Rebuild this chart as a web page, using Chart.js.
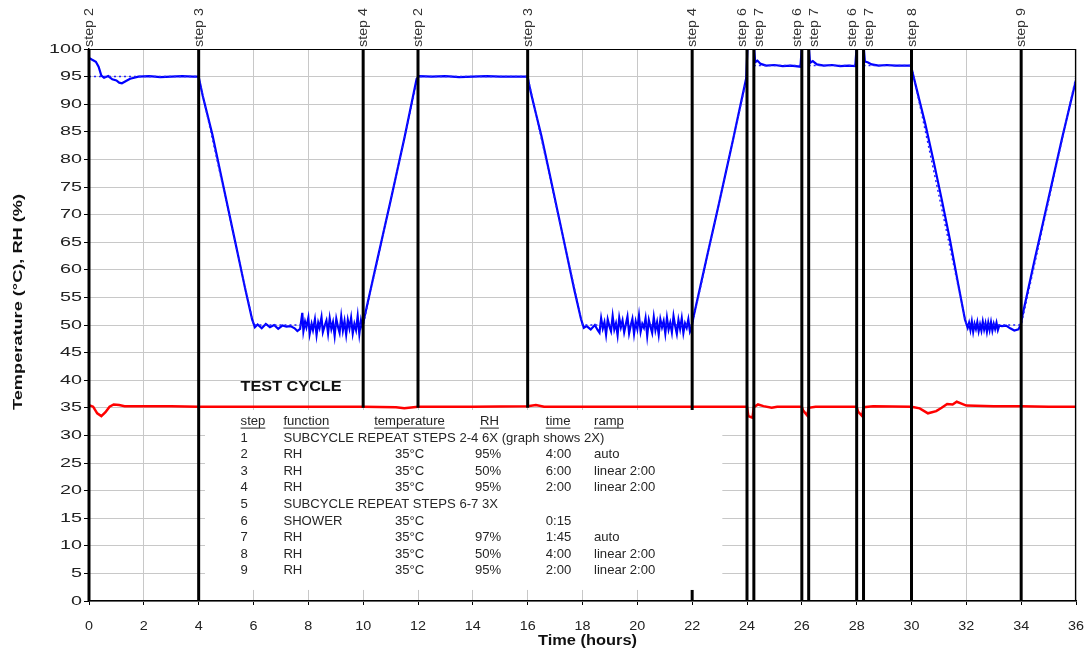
<!DOCTYPE html>
<html><head><meta charset="utf-8">
<script src="https://cdn.jsdelivr.net/npm/chart.js@4/dist/chart.umd.min.js"></script>
<style>html,body{margin:0;padding:0;background:#fff;}#wrap{width:1087px;height:649px;}</style>
</head><body><div id="wrap"><canvas id="c" width="1087" height="649"></canvas></div>
<script>
// ---------- DATA ----------
const xTickValues = [0,2,4,6,8,10,12,14,16,18,20,22,24,26,28,30,32,34,36];
const yTickValues = [0,5,10,15,20,25,30,35,40,45,50,55,60,65,70,75,80,85,90,95,100];

// measured RH (%)
const rhHours = [
  0,0.1,0.25,0.35,0.45,0.55,0.7,0.85,1.0,1.1,1.2,1.35,1.5,1.65,1.8,2.2,2.6,3.0,3.4,3.8,4.0,
  4.05,4.15,4.3,4.5,4.8,5.1,5.4,5.7,5.95,6.05,
  6.15,6.3,6.45,6.6,6.75,6.9,7.05,7.2,7.35,7.5,7.6,7.7,
  7.78,7.82,7.88,7.93,8.0,8.05,8.12,8.17,8.24,8.3,8.36,8.41,8.48,8.53,8.6,8.66,8.72,8.78,8.84,8.9,8.96,9.02,9.08,9.14,9.2,9.26,9.32,9.38,9.44,9.5,9.56,9.62,9.68,9.74,9.8,9.86,9.92,9.97,
  10.05,10.5,11.0,11.5,11.95,12.05,
  12.5,13.0,13.5,14.0,14.5,15.0,15.5,16.0,
  16.05,16.15,16.3,16.5,16.8,17.1,17.4,17.7,17.95,18.05,
  18.15,18.3,18.45,18.55,
  18.62,18.68,18.74,18.80,18.86,18.92,18.98,19.04,19.10,19.16,
  19.22,19.28,19.34,19.40,19.46,19.52,19.58,19.64,19.70,19.76,
  19.82,19.88,19.94,20.00,20.06,20.12,20.18,20.24,20.30,20.36,
  20.42,20.48,20.54,20.60,20.66,20.72,20.78,20.84,20.90,20.96,
  21.02,21.08,21.14,21.20,21.26,21.32,21.38,21.44,21.50,21.56,
  21.62,21.68,21.74,21.80,21.86,21.92,21.97,
  22.05,22.5,23.0,23.5,23.97,
  24.05,24.2,24.3,24.38,24.5,24.7,25.0,25.3,25.6,25.95,
  26.05,26.2,26.3,26.4,26.55,26.8,27.1,27.4,27.7,27.95,
  28.05,28.2,28.3,28.4,28.55,28.8,29.1,29.4,29.7,29.98,
  30.05,30.15,30.3,30.5,30.8,31.1,31.4,31.7,31.95,32.05,
  32.1,32.15,32.2,32.25,32.3,32.35,32.4,32.45,32.5,32.55,32.6,32.65,32.7,32.75,32.8,32.85,32.9,32.95,33.0,33.05,33.1,33.15,33.2,33.3,33.45,33.6,33.75,33.9,33.98,
  34.05,34.5,35.0,35.5,36.0
];
const rhValues = [
  98.4,98.1,97.7,96.8,95.2,94.8,95.1,94.5,94.3,93.9,93.8,94.2,94.6,94.8,95.0,95.1,94.9,95.0,95.1,95.0,95.0,
  93.8,91.5,88.5,84.5,77.5,70.5,63.5,56.5,51.0,49.6,
  50.1,49.4,50.2,49.6,50.0,49.3,49.9,49.7,49.8,49.4,48.9,49.3,
  52.2,48.9,50.6,49.6,51.3,48.4,50.2,49.1,51.0,48.2,50.4,49.5,51.4,48.7,49.9,50.8,48.5,51.2,49.3,50.5,48.1,51.1,49.7,48.6,51.5,49.0,50.7,48.3,50.9,49.4,51.3,48.5,50.2,49.1,51.6,48.4,50.8,49.6,
  51.5,61.5,72.5,83.8,94.6,95.1,
  95.0,95.1,94.9,95.0,95.1,95.0,95.0,95.0,
  93.6,91.4,88.3,84.3,77.4,70.4,63.4,56.4,51.0,49.5,
  49.8,49.2,50.0,49.1,
  48.6,51.2,49.4,50.5,48.3,51.0,49.8,48.9,51.6,49.2,
  50.3,48.2,51.3,49.6,50.8,48.7,50.1,51.5,48.5,49.9,
  51.1,48.4,50.6,49.3,51.7,48.8,50.2,49.5,51.2,48.1,
  50.9,49.7,48.6,51.4,49.1,50.5,48.3,51.0,49.6,50.7,
  48.5,51.3,49.2,50.4,48.7,51.6,49.8,48.4,50.9,49.3,
  51.2,48.6,50.3,49.5,51.0,48.8,49.4,
  51.5,61.5,72.5,83.8,94.7,
  104,104,97.6,97.9,97.3,97.0,97.1,96.9,97.0,96.8,
  104,104,97.5,97.8,97.2,97.0,97.1,96.9,97.0,96.9,
  104,104,97.7,97.6,97.2,97.0,97.1,97.0,97.0,97.0,
  95.5,93.5,90.5,86.5,79.8,72.8,65.5,57.5,51.0,49.5,
  50.4,49.1,50.6,48.8,50.2,49.3,50.5,48.9,50.1,49.0,50.6,49.2,50.3,48.8,50.4,49.1,50.5,49.0,50.2,49.3,50.4,49.1,49.9,49.8,49.9,49.4,49.0,49.2,50.0,
  51.8,62.0,73.0,84.0,94.4
];

// RH setpoint (%)
const setHours  = [0,4,6,10,12,16,18,22,24,24.1,24.25,26,26.1,26.25,28,28.1,28.25,30,32,34,36];
const setValues = [95,95,50,50,95,95,50,50,95,null,97,97,null,97,97,null,97,97,50,50,95];

// measured temperature (°C)
const tempHours = [0,0.15,0.3,0.45,0.6,0.75,0.9,1.1,1.3,2,3,4,6,8,10,11.2,11.5,12,14,16,16.3,16.6,18,20,22,24,24.05,24.2,24.25,24.4,24.6,24.9,25.1,26,26.05,26.2,26.25,26.5,28,28.05,28.2,28.25,28.6,30,30.3,30.6,30.9,31.1,31.3,31.5,31.65,31.8,32,33,34,35,36];
const tempValues = [35.5,35.2,34.0,33.5,34.2,35.2,35.6,35.5,35.3,35.3,35.3,35.2,35.2,35.2,35.2,35.1,34.9,35.2,35.2,35.3,35.5,35.2,35.2,35.2,35.2,35.2,33.5,33.2,35.1,35.6,35.3,35.0,35.2,35.2,34.5,33.6,35.0,35.2,35.2,34.3,33.5,35.1,35.3,35.2,34.9,34.0,34.4,35.0,35.7,35.6,36.1,35.8,35.4,35.3,35.3,35.2,35.2];

// step boundaries
const stepHours  = [0,4,10,12,16,22,24,24.25,26,26.25,28,28.25,30,34];
const stepLabels = ['step 2','step 3','step 4','step 2','step 3','step 4','step 6','step 7','step 6','step 7','step 6','step 7','step 8','step 9'];
const stepBottoms = [0,0,35,35,35,0,0,0,0,0,0,0,0,0];

// test-cycle table
const tableTitle = 'TEST CYCLE';
const tableHeaders = ['step','function','temperature','RH','time','ramp'];
const tableSteps = ['1','2','3','4','5','6','7','8','9'];
const tableFunctions = ['SUBCYCLE REPEAT STEPS 2-4 6X (graph shows 2X)','RH','RH','RH','SUBCYCLE REPEAT STEPS 6-7 3X','SHOWER','RH','RH','RH'];
const tableTemps = ['','35°C','35°C','35°C','','35°C','35°C','35°C','35°C'];
const tableRH = ['','95%','50%','95%','','','97%','50%','95%'];
const tableTimes = ['','4:00','6:00','2:00','','0:15','1:45','4:00','2:00'];
const tableRamps = ['','auto','linear 2:00','linear 2:00','','','auto','linear 2:00','linear 2:00'];

const xTitle = 'Time (hours)';
const yTitle = 'Temperature (°C), RH (%)';

// ---------- LAYOUT / STYLE ----------
const FAM = '"Liberation Sans", Arial, Helvetica, sans-serif';
const TEXT = '#1e1e1e';
const L = {
  tableCols: {step:5.53, func:7.09, tempH:10.40, temp:11.16, rhH:14.26, rh:14.08, time:16.66, ramp:18.42},
  headerY: 32.5, firstRowY: 29.5, rowStep: 3, titleY: 38.8,
  box: {x0:4.23, x1:23.1, y0:2.0, y1:34.6}
};

function toXY(xs, ys){ return xs.map((x,i)=>({x:x, y:ys[i]})); }

function scaleFor(ctx, font, sample, target){
  ctx.save(); ctx.font = font; const w = ctx.measureText(sample).width; ctx.restore();
  return target / w;
}
function drawText(ctx, txt, x, y, font, sx, align, rot, color){
  ctx.save();
  ctx.translate(x, y);
  if (rot) ctx.rotate(rot);
  ctx.scale(sx, 1);
  ctx.font = font; ctx.textAlign = align; ctx.textBaseline = 'middle';
  ctx.fillStyle = color || TEXT;
  ctx.fillText(txt, 0, 0);
  const w = ctx.measureText(txt).width;
  ctx.restore();
  return w * sx;
}

const overlay = {
  id: 'overlay',
  afterDatasetsDraw(chart){
    const ctx = chart.ctx, xs = chart.scales.x, ys = chart.scales.y, ca = chart.chartArea;
    // step lines
    ctx.save();
    ctx.strokeStyle = '#000'; ctx.lineWidth = 3;
    stepHours.forEach((h,i)=>{
      const X = xs.getPixelForValue(h);
      ctx.beginPath(); ctx.moveTo(X, ca.top); ctx.lineTo(X, ys.getPixelForValue(stepBottoms[i])); ctx.stroke();
    });
    ctx.restore();
    // plot border top/right
    ctx.save(); ctx.strokeStyle = '#000'; ctx.lineWidth = 1.2;
    ctx.beginPath(); ctx.moveTo(ca.left, ca.top+0.5); ctx.lineTo(ca.right-0.5, ca.top+0.5); ctx.lineTo(ca.right-0.5, ca.bottom); ctx.stroke();
    ctx.restore();
    // table box
    const bx0 = xs.getPixelForValue(L.box.x0), bx1 = xs.getPixelForValue(L.box.x1);
    const by0 = ys.getPixelForValue(L.box.y1), by1 = ys.getPixelForValue(L.box.y0);
    ctx.save(); ctx.fillStyle = '#fff'; ctx.fillRect(bx0, by0, bx1-bx0, by1-by0); ctx.restore();

    // table text
    const tFont = '13px ' + FAM;
    const tsx = scaleFor(ctx, tFont, tableFunctions[0], 321);
    const titleFont = 'bold 14px ' + FAM;
    const titleSx = scaleFor(ctx, titleFont, tableTitle, 101);
    const C = L.tableCols, P = v => xs.getPixelForValue(v), Q = v => ys.getPixelForValue(v);
    const tc = '#262626';
    drawText(ctx, tableTitle, P(C.step), Q(L.titleY), titleFont, titleSx, 'left', 0, '#111');
    const hx = [C.step, C.func, C.tempH, C.rhH, C.time, C.ramp];
    const hy = Q(L.headerY);
    tableHeaders.forEach((t,i)=>{
      const w = drawText(ctx, t, P(hx[i]), hy, tFont, tsx, 'left', 0, tc);
      ctx.save(); ctx.strokeStyle = tc; ctx.lineWidth = 1;
      ctx.beginPath(); ctx.moveTo(P(hx[i]), hy+6.5); ctx.lineTo(P(hx[i])+w, hy+6.5); ctx.stroke(); ctx.restore();
    });
    tableSteps.forEach((s,i)=>{
      const y = Q(L.firstRowY - L.rowStep*i);
      drawText(ctx, s, P(C.step), y, tFont, tsx, 'left', 0, tc);
      drawText(ctx, tableFunctions[i], P(C.func), y, tFont, tsx, 'left', 0, tc);
      if (tableTemps[i]) drawText(ctx, tableTemps[i], P(C.temp), y, tFont, tsx, 'left', 0, tc);
      if (tableRH[i]) drawText(ctx, tableRH[i], P(C.rh), y, tFont, tsx, 'left', 0, tc);
      if (tableTimes[i]) drawText(ctx, tableTimes[i], P(C.time), y, tFont, tsx, 'left', 0, tc);
      if (tableRamps[i]) drawText(ctx, tableRamps[i], P(C.ramp), y, tFont, tsx, 'left', 0, tc);
    });

    // step labels (rotated)
    const sFont = '12px ' + FAM;
    const ssx = scaleFor(ctx, sFont, 'step 2', 39);
    const centers = stepHours.map(h => xs.getPixelForValue(h) + 1);
    for (let i = 0; i < centers.length - 1; i++) {
      if (centers[i+1] - centers[i] < 16) {
        const m = (centers[i] + centers[i+1]) / 2;
        centers[i] = m - 8.5; centers[i+1] = m + 8.5; i++;
      }
    }
    stepLabels.forEach((t,i)=>{
      drawText(ctx, t, centers[i], ca.top - 2, sFont, ssx, 'left', -Math.PI/2, '#333');
    });

    // tick labels
    const yFont = '13px ' + FAM, xFont = '13px ' + FAM;
    const ysx = scaleFor(ctx, yFont, '100', 33);
    const xsx = scaleFor(ctx, xFont, '10', 16);
    yTickValues.forEach(v => drawText(ctx, String(v), ca.left - 7, ys.getPixelForValue(v), yFont, ysx, 'right', 0, '#222'));
    xTickValues.forEach(v => drawText(ctx, String(v), xs.getPixelForValue(v), ca.bottom + 25, xFont, xsx, 'center', 0, '#222'));

    // axis titles
    const tf = 'bold 14px ' + FAM;
    drawText(ctx, xTitle, (ca.left + ca.right)/2 + 5, ca.bottom + 40, tf, scaleFor(ctx, tf, xTitle, 99), 'center', 0, '#111');
    const yf = 'bold 13px ' + FAM;
    drawText(ctx, yTitle, 18, 302, yf, scaleFor(ctx, yf, yTitle, 216), 'center', -Math.PI/2, '#111');
  }
};

new Chart(document.getElementById('c'), {
  type: 'line',
  data: {
    datasets: [
      { label: 'Temperature', data: toXY(tempHours, tempValues), borderColor: '#ff0000', borderWidth: 2.5, pointRadius: 0, tension: 0, fill: false },
      { label: 'RH setpoint', data: toXY(setHours, setValues), borderColor: '#2020ff', borderWidth: 1.5, borderDash: [2,3], pointRadius: 0, tension: 0, fill: false, spanGaps: false },
      { label: 'RH', data: toXY(rhHours, rhValues), borderColor: '#0000ff', borderWidth: 2.2, pointRadius: 0, tension: 0, fill: false }
    ]
  },
  plugins: [overlay],
  options: {
    responsive: false,
    animation: false,
    devicePixelRatio: 1,
    layout: { padding: { top: 49, right: 11, left: 0, bottom: 0 } },
    plugins: { legend: { display: false }, tooltip: { enabled: false }, title: { display: false } },
    scales: {
      x: {
        type: 'linear', min: 0, max: 36,
        afterFit(s){ s.height = 48; },
        afterBuildTicks(s){ s.ticks = xTickValues.map(v => ({value: v})); },
        ticks: { display: false, autoSkip: false },
        grid: { color: '#c8c8c8', lineWidth: 1, tickColor: '#000', tickLength: 4, drawTicks: true },
        border: { color: '#000', width: 1.5 }
      },
      y: {
        type: 'linear', min: 0, max: 100,
        afterFit(s){ s.width = 89; },
        afterBuildTicks(s){ s.ticks = yTickValues.map(v => ({value: v})); },
        ticks: { display: false, autoSkip: false },
        grid: { color: '#c8c8c8', lineWidth: 1, tickColor: '#000', tickLength: 5, drawTicks: true },
        border: { color: '#000', width: 1.5 }
      }
    }
  }
});
</script>
</body></html>
